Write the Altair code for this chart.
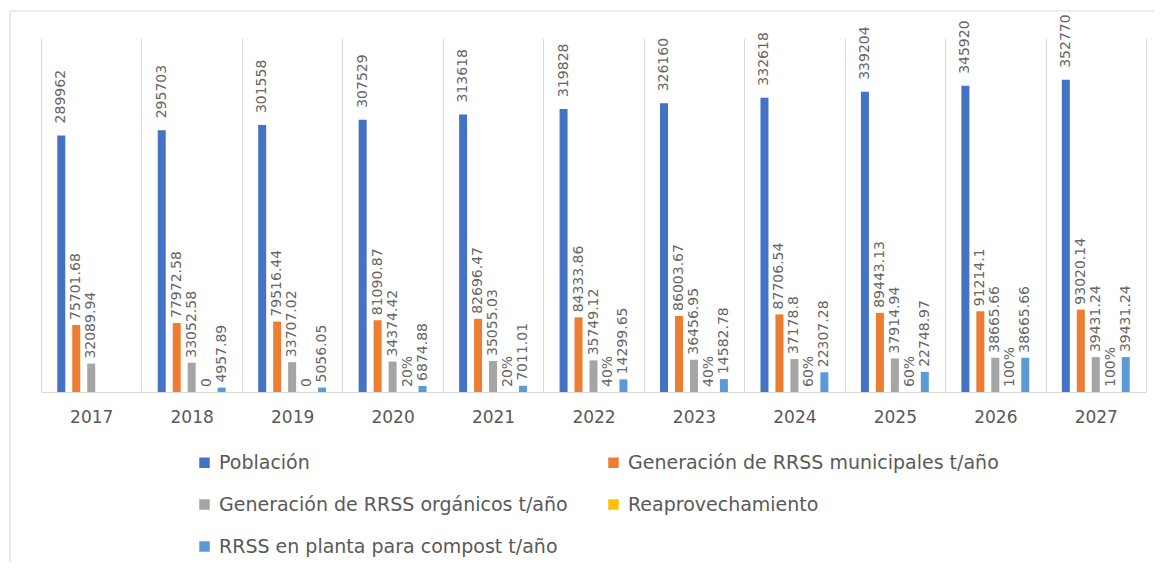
import altair as alt
import pandas as pd

years = ["2017", "2018", "2019", "2020", "2021", "2022", "2023", "2024", "2025", "2026", "2027"]

poblacion = [289962, 295703, 301558, 307529, 313618, 319828, 326160, 332618, 339204, 345920, 352770]
municipales = [75701.68, 77972.58, 79516.44, 81090.87, 82696.47, 84333.86, 86003.67, 87706.54, 89443.13, 91214.1, 93020.14]
organicos = [32089.94, 33052.58, 33707.02, 34374.42, 35055.03, 35749.12, 36456.95, 37178.8, 37914.94, 38665.66, 39431.24]
reaprovechamiento = [None, 0, 0, 0.2, 0.2, 0.4, 0.4, 0.6, 0.6, 1.0, 1.0]
compost = [None, 4957.89, 5056.05, 6874.88, 7011.01, 14299.65, 14582.78, 22307.28, 22748.97, 38665.66, 39431.24]

series_names = [
    "Población",
    "Generación de RRSS municipales t/año",
    "Generación de RRSS orgánicos t/año",
    "Reaprovechamiento",
    "RRSS en planta para compost t/año",
]
series_values = [poblacion, municipales, organicos, reaprovechamiento, compost]
colors = ["#4472C4", "#ED7D31", "#A5A5A5", "#FFC000", "#5B9BD5"]


def fmt(v, pct):
    if v is None:
        return None
    if pct:
        return "0" if v == 0 else f"{round(v * 100)}%"
    s = f"{v:.2f}".rstrip("0").rstrip(".")
    return s


rows = []
for name, vals in zip(series_names, series_values):
    pct = name == "Reaprovechamiento"
    for yr, v in zip(years, vals):
        if v is None:
            continue
        rows.append({"year": yr, "serie": name, "value": v, "label": fmt(v, pct)})
df = pd.DataFrame(rows)

FONT = "DejaVu Sans"
TXT = "#595959"
LBL = "#666666"
GRID = "#d9d9d9"

base = alt.Chart(df).encode(
    x=alt.X(
        "year:N",
        sort=years,
        scale=alt.Scale(paddingInner=0, paddingOuter=0),
        axis=alt.Axis(
            title=None,
            labelAngle=0,
            ticks=False,
            grid=True,
            tickBand="extent",
            gridColor=GRID,
            domainColor=GRID,
            labelFont=FONT,
            labelFontSize=17,
            labelColor=TXT,
            labelPadding=17,
        ),
    ),
    xOffset=alt.XOffset(
        "serie:N",
        sort=series_names,
        scale=alt.Scale(domain=series_names, paddingInner=0, paddingOuter=0.855),
    ),
    y=alt.Y("value:Q", scale=alt.Scale(domain=[0, 400000]), axis=None),
)

bars = base.mark_bar(width=8).encode(
    color=alt.Color(
        "serie:N",
        sort=series_names,
        scale=alt.Scale(domain=series_names, range=colors),
        legend=alt.Legend(
            orient="none",
            legendX=154,
            legendY=415,
            direction="horizontal",
            columns=2,
            title=None,
            symbolType="square",
            symbolSize=110,
            symbolStrokeWidth=0,
            labelFont=FONT,
            labelFontSize=19,
            labelColor=TXT,
            labelLimit=0,
            labelOffset=5,
            columnPadding=36,
            rowPadding=22,
        ),
    )
)

labels_pop = base.transform_filter(alt.datum.serie == series_names[0]).mark_text(
    angle=270, align="left", baseline="middle", dx=12, font=FONT, fontSize=14, color=LBL
).encode(text="label:N")

labels_rest = base.transform_filter(alt.datum.serie != series_names[0]).mark_text(
    angle=270, align="left", baseline="middle", dx=5, font=FONT, fontSize=14, color=LBL
).encode(text="label:N")

frame = alt.Chart(pd.DataFrame({"a": [0]})).mark_rect(
    fillOpacity=0, stroke=GRID, strokeWidth=1
).encode(x=alt.value(-31), x2=alt.value(1119), y=alt.value(-27), y2=alt.value(560))

chart = (
    alt.layer(frame, bars, labels_pop, labels_rest)
    .properties(
        width=1105,
        height=354,
        autosize=alt.AutoSizeParams(type="none"),
        padding={"left": 33, "top": 30, "right": 8, "bottom": 170},
        background="white",
    )
    .configure_view(stroke=None)
)

chart.save("out.html", embed_options={"renderer": "svg", "actions": False})
